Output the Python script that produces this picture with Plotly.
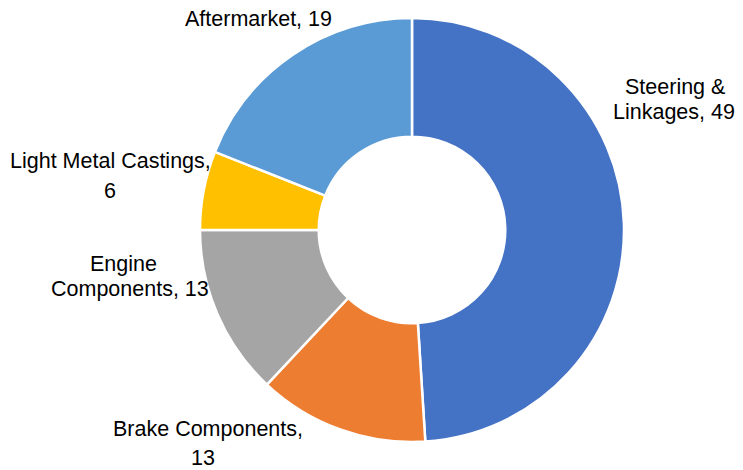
import plotly.graph_objects as go

categories = ["Steering & Linkages", "Brake Components", "Engine Components", "Light Metal Castings", "Aftermarket"]
values = [49, 13, 13, 6, 19]
colors = ["#4472C4", "#ED7D31", "#A5A5A5", "#FFC000", "#5B9BD5"]

# how each data label is wrapped into lines
label_lines = [
    lambda c, v: ["Steering &", f"Linkages, {v}"],
    lambda c, v: [f"{c},", f"{v}"],
    lambda c, v: ["Engine", f"Components, {v}"],
    lambda c, v: [f"{c},", f"{v}"],
    lambda c, v: [f"{c}, {v}"],
]

OFF = 8  # page body margin
W, H = 743 - OFF, 470 - OFF
cx, cy, R = 412 - OFF, 230 - OFF, 212

fig = go.Figure(go.Pie(
    values=values,
    labels=categories,
    marker=dict(colors=colors, line=dict(color="white", width=2.5)),
    hole=0.44,
    sort=False,
    direction="clockwise",
    textinfo="none",
    hoverinfo="label+value",
    domain=dict(x=[(cx - R) / W, (cx + R) / W], y=[(H - cy - R) / H, (H - cy + R) / H]),
    showlegend=False,
))

# per-line label centers in reference pixels: (x, y)
line_pos = [
    [(675, 87), (674, 112)],
    [(208, 429), (203, 458)],
    [(123, 264), (130, 289)],
    [(110, 161), (110, 191)],
    [(258, 19)],
]
FONT = "Liberation Sans, Arial, sans-serif"
for cat, v, fn, poss in zip(categories, values, label_lines, line_pos):
    for txt, (px, py) in zip(fn(cat, v), poss):
        fig.add_annotation(
            x=(px - OFF) / W, y=1 - (py - OFF) / H, xref="paper", yref="paper",
            text=txt, showarrow=False, xanchor="center", yanchor="middle",
            font=dict(family=FONT, size=21.5, color="#000000"),
        )

fig.update_layout(
    width=W, height=H,
    margin=dict(l=0, r=0, t=0, b=0),
    paper_bgcolor="white", plot_bgcolor="white",
)
fig.write_html("out.html")
